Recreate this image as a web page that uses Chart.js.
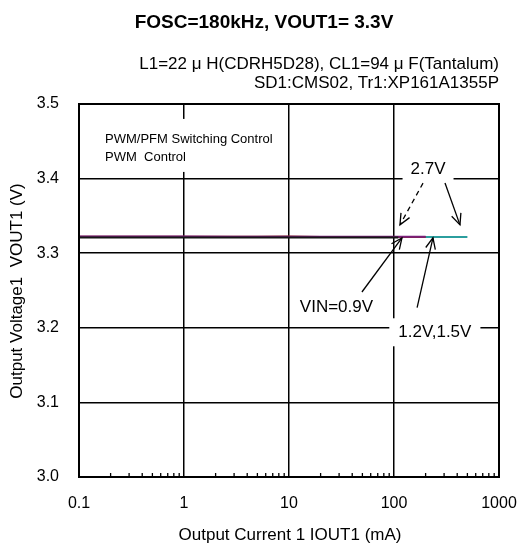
<!DOCTYPE html>
<html>
<head>
<meta charset="utf-8">
<script src="https://cdn.jsdelivr.net/npm/chart.js@4.4.0/dist/chart.umd.min.js"></script>
<style>
  html, body { margin: 0; padding: 0; background: #fff; }
</style>
</head>
<body>
<canvas id="chart" width="520" height="545"></canvas>
<script>
// Valores
const xTicks = [0.1, 1, 10, 100, 1000];
const yTicks = [3.0, 3.1, 3.2, 3.3, 3.4, 3.5];

const vin09I = [0.1, 0.3, 1, 3, 10, 30, 100, 110];
const vin09V = [3.321, 3.321, 3.321, 3.321, 3.321, 3.321, 3.321, 3.321];
const vin12I = [0.1, 0.3, 1, 3, 10, 30, 100, 200];
const vin12V = [3.3225, 3.3225, 3.3225, 3.3222, 3.3222, 3.322, 3.322, 3.322];
const vin15I = [0.1, 1, 5, 10, 20, 100, 200];
const vin15V = [3.322, 3.322, 3.322, 3.3223, 3.3218, 3.3218, 3.3218];
const vin27I = [0.1, 1, 10, 100, 200, 300, 500];
const vin27V = [3.3218, 3.3218, 3.3218, 3.3218, 3.3218, 3.3218, 3.3218];

const FONT = '"Liberation Sans", Arial, sans-serif';

function toPoints(xs, ys) {
    return xs.map((x, i) => ({ x: x, y: ys[i] }));
}

// Dibuja una flecha abierta entre dos puntos (en píxeles)
function arrow(ctx, x1, y1, x2, y2, dashed) {
    ctx.save();
    ctx.strokeStyle = '#000';
    ctx.lineWidth = 1.3;
    ctx.setLineDash(dashed ? [5, 4] : []);
    ctx.beginPath();
    ctx.moveTo(x1, y1);
    ctx.lineTo(x2, y2);
    ctx.stroke();
    ctx.setLineDash([]);
    const ang = Math.atan2(y2 - y1, x2 - x1);
    const len = 12, spread = 0.42;
    ctx.beginPath();
    ctx.moveTo(x2 - len * Math.cos(ang - spread), y2 - len * Math.sin(ang - spread));
    ctx.lineTo(x2, y2);
    ctx.lineTo(x2 - len * Math.cos(ang + spread), y2 - len * Math.sin(ang + spread));
    ctx.stroke();
    ctx.restore();
}

// Texto con fondo blanco (tapa la cuadrícula)
function boxText(ctx, text, x, y, font, align, padX, padY) {
    ctx.save();
    ctx.font = font;
    const w = ctx.measureText(text).width;
    const left = align === 'left' ? x : x - w / 2;
    ctx.fillStyle = '#fff';
    ctx.fillRect(left - padX, y - 8 - padY, w + padX * 2, 16 + padY * 2);
    ctx.fillStyle = '#000';
    ctx.textAlign = align;
    ctx.textBaseline = 'middle';
    ctx.fillText(text, x, y);
    ctx.restore();
}

const decorPlugin = {
    id: 'decor',
    afterDatasetsDraw(chart) {
        const { ctx, chartArea: a, scales: { x } } = chart;
        ctx.save();
        // Marcas menores del eje logarítmico
        ctx.strokeStyle = '#000';
        ctx.lineWidth = 1.3;
        for (let d = 0.1; d < 999; d *= 10) {
            for (let m = 2; m <= 9; m++) {
                const px = x.getPixelForValue(d * m);
                ctx.beginPath();
                ctx.moveTo(px, a.bottom);
                ctx.lineTo(px, a.bottom - 4);
                ctx.stroke();
            }
        }
        // Marco exterior
        ctx.lineWidth = 2;
        ctx.strokeRect(a.left, a.top, a.right - a.left, a.bottom - a.top);
        ctx.restore();
    },
    afterDraw(chart) {
        const { ctx, scales: { x, y } } = chart;
        const px = v => x.getPixelForValue(v);
        const py = v => y.getPixelForValue(v);

        // Caja de texto de control
        ctx.save();
        ctx.fillStyle = '#fff';
        ctx.fillRect(px(0.165), py(3.48), 168, 53);
        ctx.restore();
        boxText(ctx, 'PWM/PFM Switching Control', px(0.177), py(3.452), '13px ' + FONT, 'left', 0, 0);
        boxText(ctx, 'PWM  Control', px(0.177), py(3.428), '13px ' + FONT, 'left', 0, 0);

        // 2.7V
        boxText(ctx, '2.7V', px(211), py(3.413), '17px ' + FONT, 'center', 8, 4);
        arrow(ctx, px(189), py(3.394), px(114), py(3.338), true);
        arrow(ctx, px(306), py(3.394), px(425), py(3.338), false);

        // VIN=0.9V
        boxText(ctx, 'VIN=0.9V', px(28.3), py(3.228), '17px ' + FONT, 'center', 2, 2);
        arrow(ctx, px(49.5), py(3.248), px(119), py(3.3205), false);

        // 1.2V,1.5V
        boxText(ctx, '1.2V,1.5V', px(245), py(3.194), '17px ' + FONT, 'center', 9, 6);
        arrow(ctx, px(166), py(3.227), px(235), py(3.3205), false);

        // Títulos
        ctx.save();
        ctx.fillStyle = '#000';
        ctx.textBaseline = 'middle';
        ctx.textAlign = 'center';
        ctx.font = 'bold 19px ' + FONT;
        ctx.fillText('FOSC=180kHz, VOUT1= 3.3V', 264, 23);
        ctx.textAlign = 'right';
        ctx.font = '17px ' + FONT;
        ctx.fillText('L1=22 \u03bc H(CDRH5D28), CL1=94 \u03bc F(Tantalum)', 499, 64);
        ctx.fillText('SD1:CMS02, Tr1:XP161A1355P', 499, 83);
        ctx.textAlign = 'center';
        ctx.fillText('Output Current 1 IOUT1 (mA)', 290, 535);
        ctx.translate(17, 291);
        ctx.rotate(-Math.PI / 2);
        ctx.fillText('Output Voltage1  VOUT1 (V)', 0, 0);
        ctx.restore();
    }
};

const lineStyle = {
    showLine: true,
    pointRadius: 0,
    borderWidth: 2,
    fill: false,
    tension: 0
};

new Chart(document.getElementById('chart').getContext('2d'), {
    type: 'scatter',
    data: {
        datasets: [
            { ...lineStyle, label: 'VIN=0.9V', data: toPoints(vin09I, vin09V), borderColor: '#151515' },
            { ...lineStyle, label: 'VIN=1.2V', data: toPoints(vin12I, vin12V), borderColor: '#7a1f7a' },
            { ...lineStyle, label: 'VIN=1.5V', data: toPoints(vin15I, vin15V), borderColor: '#8a2a1c' },
            { ...lineStyle, label: 'VIN=2.7V', data: toPoints(vin27I, vin27V), borderColor: '#2b9e9e' }
        ]
    },
    options: {
        responsive: false,
        animation: false,
        layout: { padding: { top: 104, right: 21, left: 0, bottom: 0 } },
        plugins: {
            legend: { display: false },
            tooltip: { enabled: false }
        },
        scales: {
            x: {
                type: 'logarithmic',
                min: 0.1,
                max: 1000,
                afterBuildTicks: s => { s.ticks = xTicks.map(v => ({ value: v })); },
                afterFit: s => { s.height = 68; s.paddingLeft = 0; s.paddingRight = 0; },
                ticks: {
                    callback: v => String(v),
                    color: '#000',
                    font: { family: FONT, size: 16 },
                    padding: 17,
                    maxRotation: 0,
                    autoSkip: false
                },
                grid: { color: '#000', lineWidth: 1.5, drawTicks: false },
                border: { display: false }
            },
            y: {
                min: 3.0,
                max: 3.5,
                afterBuildTicks: s => { s.ticks = yTicks.map(v => ({ value: v })); },
                afterFit: s => { s.width = 79; s.paddingTop = 0; s.paddingBottom = 0; },
                ticks: {
                    callback: v => v.toFixed(1),
                    color: '#000',
                    font: { family: FONT, size: 16 },
                    padding: 20
                },
                grid: { color: '#000', lineWidth: 1.5, drawTicks: false },
                border: { display: false }
            }
        }
    },
    plugins: [decorPlugin]
});
</script>
</body>
</html>
